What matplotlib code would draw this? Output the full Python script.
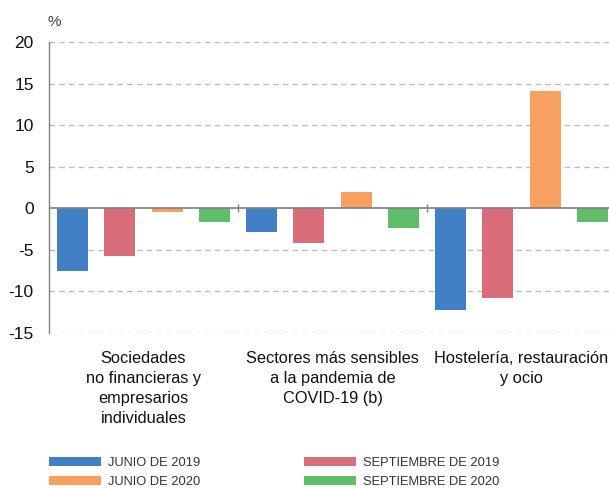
import matplotlib
matplotlib.use("Agg")
import matplotlib.pyplot as plt
from matplotlib.patches import Patch
import numpy as np

categories = ["Sociedades\nno financieras y\nempresarios\nindividuales",
              "Sectores más sensibles\na la pandemia de\nCOVID-19 (b)",
              "Hostelería, restauración\ny ocio"]
series_names = ["JUNIO DE 2019", "SEPTIEMBRE DE 2019", "JUNIO DE 2020", "SEPTIEMBRE DE 2020"]
jun_2019 = [-7.5, -2.9, -12.2]
sep_2019 = [-5.7, -4.2, -10.8]
jun_2020 = [-0.4, 2.0, 14.1]
sep_2020 = [-1.7, -2.4, -1.6]
series_values = [jun_2019, sep_2019, jun_2020, sep_2020]
colors = ["#4180C4", "#D96D7A", "#F8A062", "#60BE6A"]
yticks = [20, 15, 10, 5, 0, -5, -10, -15]

plt.rcParams['font.family'] = ['Liberation Sans', 'DejaVu Sans']

W, H = 609, 488
fig = plt.figure(figsize=(W / 100, H / 100), dpi=100)
ax = fig.add_axes([49 / W, (H - 333) / H, (616 - 49) / W, (333 - 42) / H])

n = len(series_values)
slot = 1.0 / n
bw = slot * 31 / 47
x = np.arange(len(categories)) + 0.5
for i, (vals, c) in enumerate(zip(series_values, colors)):
    ax.bar(x + (i - (n - 1) / 2) * slot, vals, width=bw, color=c, zorder=3)

ax.set_xlim(0, len(categories))
ax.set_ylim(-15, 20)
ax.set_yticks(yticks)
ax.set_yticklabels([str(t) for t in yticks], fontsize=12.5, color="#111111")
ax.tick_params(axis='y', length=0, pad=11)
for t in yticks:
    if t != 0:
        ax.axhline(t, color="#BDBDBD", lw=1, ls=(0, (4, 3)), zorder=1)
ax.axhline(0, color="#808080", lw=1.2, zorder=4)
ax.vlines([1, 2], -0.5, 0.5, color="#808080", lw=1, zorder=4)

ax.set_xticks(x)
ax.set_xticklabels(categories, fontsize=11.8, color="#111111", linespacing=1.42)
ax.tick_params(axis='x', length=0, pad=13)

for s in ["top", "right", "bottom"]:
    ax.spines[s].set_visible(False)
ax.spines["left"].set_color("#808080")
ax.spines["left"].set_linewidth(1)

fig.text(48 / W, 1 - 22 / H, "%", fontsize=11, color="#404040", va="center", ha="left")

order = [0, 2, 1, 3]
handles = [Patch(facecolor=colors[i], edgecolor="none") for i in order]
labels = [series_names[i] for i in order]
fig.legend(handles, labels, ncol=2, loc="lower left",
           bbox_to_anchor=(40 / W, -9 / H), frameon=False,
           prop={'family': ['Liberation Sans', 'DejaVu Sans'], 'size': 9.3},
           labelcolor="#333333", handlelength=4.05, handleheight=0.72,
           handletextpad=0.55, columnspacing=8.0, labelspacing=0.55,
           borderpad=0.2)

fig.savefig("out.png", dpi=100)
